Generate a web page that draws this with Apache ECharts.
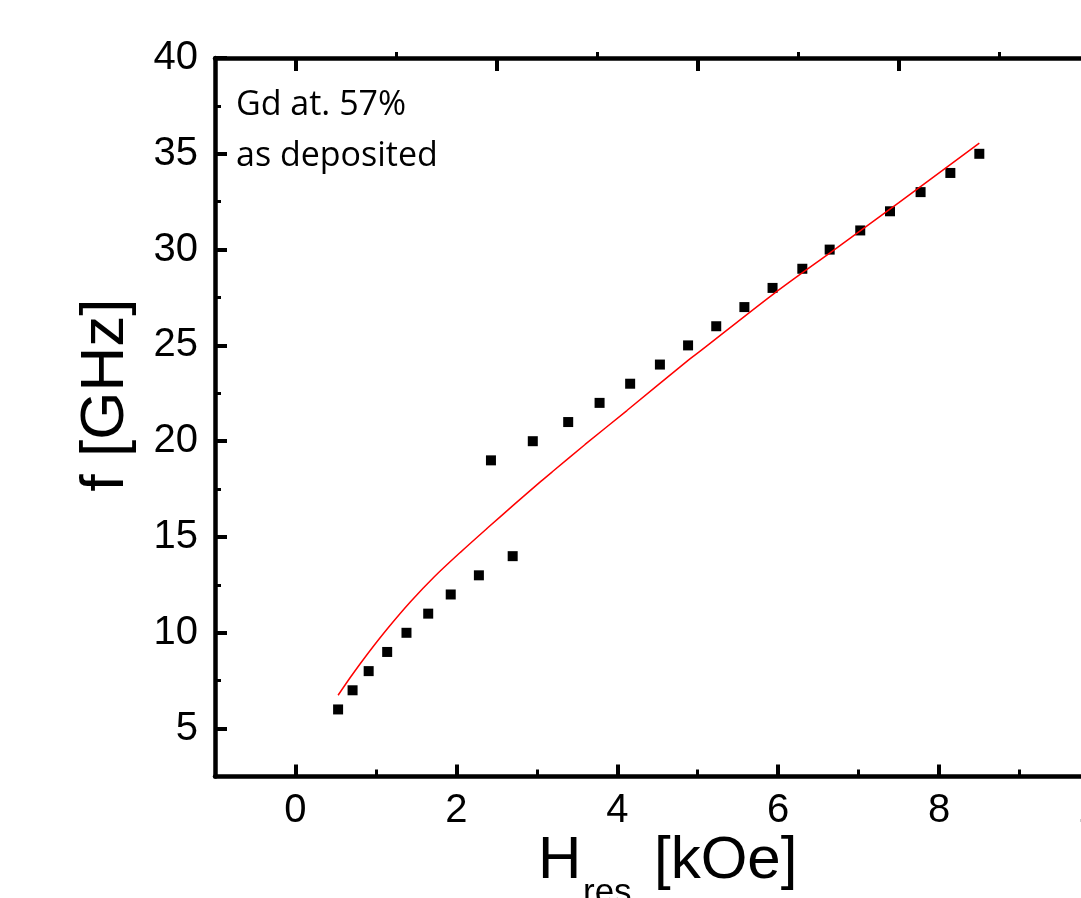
<!DOCTYPE html>
<html>
<head>
<meta charset="utf-8">
<title>f vs Hres</title>
<script src="https://cdn.jsdelivr.net/npm/echarts@6/dist/echarts.min.js"></script>
<style>
html, body { margin: 0; padding: 0; background: #fff; }
#main { width: 1081px; height: 898px; }
</style>
</head>
<body>
<div id="main"></div>
<script>
// measured points: H_res [kOe], f [GHz]
var hRes = [0.53, 0.71, 0.91, 1.14, 1.38, 1.65, 1.93, 2.28, 2.70, 2.43, 2.95, 3.39, 3.78, 4.16, 4.53,
    4.88, 5.23, 5.58, 5.93, 6.30, 6.64, 7.02, 7.39, 7.77, 8.14, 8.50];
var freq = [6, 7, 8, 9, 10, 11, 12, 13, 14, 19, 20, 21, 22, 23, 24,
    25, 26, 27, 28, 29, 30, 31, 32, 33, 34, 35];
// fit curve
var fitH = [0.53, 0.69, 0.90, 1.15, 1.43, 1.72, 2.05, 2.39, 2.72, 3.05, 3.20, 3.60, 4.12, 4.88, 5.03, 5.94, 6.70, 7.50, 8.50];
var fitF = [6.74, 7.72, 8.92, 10.25, 11.62, 12.90, 14.20, 15.48, 16.70, 17.90, 18.43, 19.83, 21.60, 24.22, 24.70, 27.68, 30.00, 32.45, 35.56];
// tick positions
var xMajor = [0, 2, 4, 6, 8, 10];
var xMinor = [1, 3, 5, 7, 9];
var topMajor = [0, 2.5, 5, 7.5, 10];
var topMinor = [1.25, 3.75, 6.25, 8.75];
var yMajor = [5, 10, 15, 20, 25, 30, 35, 40];
var yMinor = [2.5, 7.5, 12.5, 17.5, 22.5, 27.5, 32.5, 37.5];

var pts = [];
for (var i = 0; i < hRes.length; i++) pts.push([hRes[i], freq[i]]);
var fit = [];
for (var i = 0; i < fitH.length; i++) fit.push([fitH[i], fitF[i]]);

var axisFont = 'Liberation Sans, Arial, sans-serif';

function xAx(pos, ticks, opts) {
    return {
        type: 'value', position: pos, min: -1, max: 10,
        axisLine: { show: opts.line, onZero: false, lineStyle: { color: '#000', width: 4.5 } },
        axisTick: { show: true, inside: opts.inside, length: opts.len, customValues: ticks,
            lineStyle: { color: '#000', width: opts.w } },
        axisLabel: opts.label ? { show: true, customValues: ticks, fontSize: 40, margin: 14,
            color: '#000', fontFamily: axisFont } : { show: false },
        splitLine: { show: false }
    };
}

function yAx(ticks, opts) {
    return {
        type: 'value', position: 'left', min: 2.5, max: 40,
        axisLine: { show: opts.line, onZero: false, lineStyle: { color: '#000', width: 4.5 } },
        axisTick: { show: true, inside: true, length: opts.len, customValues: ticks,
            lineStyle: { color: '#000', width: opts.w } },
        axisLabel: opts.label ? { show: true, customValues: ticks, fontSize: 40, margin: 17,
            color: '#000', fontFamily: axisFont } : { show: false },
        splitLine: { show: false }
    };
}

var option = {
    animation: false,
    backgroundColor: '#fff',
    grid: { left: 215, right: -19, top: 58, bottom: 121.5, containLabel: false, outerBoundsMode: 'none' },
    xAxis: [
        xAx('bottom', xMajor, { line: true, inside: true, len: 12, w: 4, label: true }),
        xAx('bottom', xMinor, { line: false, inside: true, len: 7, w: 3, label: false }),
        xAx('top', topMajor, { line: true, inside: true, len: 13, w: 4, label: false }),
        xAx('top', topMinor, { line: false, inside: false, len: 6, w: 3, label: false })
    ],
    yAxis: [
        yAx(yMajor, { line: true, len: 12, w: 4, label: true }),
        yAx(yMinor, { line: false, len: 6, w: 3, label: false })
    ],
    series: [
        {
            type: 'scatter', xAxisIndex: 0, yAxisIndex: 0,
            symbol: 'rect', symbolSize: 10,
            itemStyle: { color: '#000', opacity: 1 },
            data: pts
        },
        {
            type: 'line', xAxisIndex: 0, yAxisIndex: 0,
            showSymbol: false, symbol: 'none', smooth: 0.3,
            lineStyle: { color: '#ff0000', width: 1.5 },
            data: fit
        }
    ],
    graphic: [
        // y axis title
        { type: 'text', x: 106, y: 395, rotation: Math.PI / 2,
            style: { text: 'f [GHz]', fontSize: 62, fontFamily: axisFont, fill: '#000',
                align: 'center', verticalAlign: 'middle' } },
        // x axis title with subscript
        { type: 'text', x: 538, y: 861,
            style: { text: 'H', fontSize: 60, fontFamily: axisFont, fill: '#000',
                align: 'left', verticalAlign: 'middle' } },
        { type: 'text', x: 583, y: 893,
            style: { text: 'res', fontSize: 35, fontFamily: axisFont, fill: '#000',
                align: 'left', verticalAlign: 'middle' } },
        { type: 'text', x: 654, y: 861,
            style: { text: '[kOe]', fontSize: 60, fontFamily: axisFont, fill: '#000',
                align: 'left', verticalAlign: 'middle' } },
        // sample note
        { type: 'text', x: 236, y: 105,
            style: { text: 'Gd at. 57%', fontSize: 34, fontFamily: 'Open Sans', fill: '#000',
                align: 'left', verticalAlign: 'middle' } },
        { type: 'text', x: 236, y: 156,
            style: { text: 'as deposited', fontSize: 34, fontFamily: 'Open Sans', fill: '#000',
                align: 'left', verticalAlign: 'middle' } }
    ]
};

var myChart = echarts.init(document.getElementById('main'));
myChart.setOption(option);
</script>
</body>
</html>
